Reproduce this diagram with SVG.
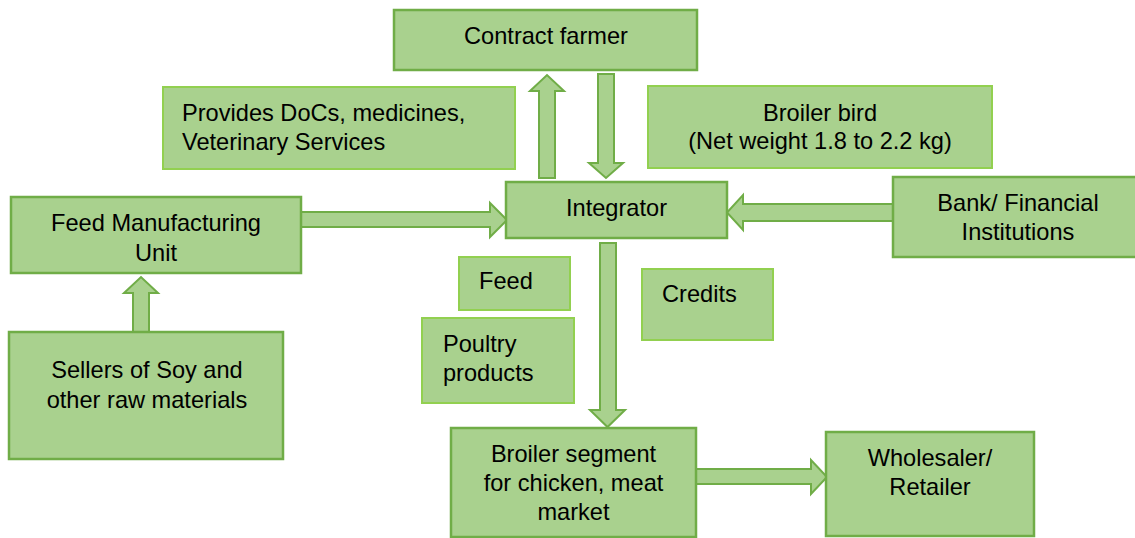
<svg xmlns="http://www.w3.org/2000/svg" width="1135" height="538" viewBox="0 0 1135 538">
<style>
.box{fill:#A9D18E;stroke:#70AD47;stroke-width:2.5}
.lbl{fill:#A9D18E;stroke:#92D050;stroke-width:2}
.arr{fill:#A9D18E;stroke:#70AD47;stroke-width:2;stroke-linejoin:miter}
text{font-family:"Liberation Sans",Arial,sans-serif;font-size:23.6px;fill:#000}
.c{text-anchor:middle}
</style>
<rect width="1135" height="538" fill="#fff"/>
<g id="connectors">
<polygon class="arr" points="539,178 539,91 530,91 547,75 564,91 555,91 555,178"/>
<polygon class="arr" points="598,74 614,74 614,163 623,163 606,178 589,163 598,163"/>
<polygon class="arr" points="301,212 490,212 490,203 507,220 490,237 490,227 301,227"/>
<polygon class="arr" points="133,332 133,293 124,293 141,277 158,293 149,293 149,332"/>
<polygon class="arr" points="893,204 743,204 743,195 727,212.5 743,230 743,221 893,221"/>
<polygon class="arr" points="600,243 616,243 616,410 625,410 607.5,427 590,410 600,410"/>
<polygon class="arr" points="696,469 811,469 811,460 827,477 811,494 811,484 696,484"/>
</g>
<g id="contract-farmer"><rect class="box" x="394" y="10" width="303" height="60"/><text class="c" x="546" y="44">Contract farmer</text></g>
<g id="provides"><rect class="lbl" x="163" y="87" width="352" height="82"/><text x="182" y="121">Provides DoCs, medicines,</text><text x="182" y="150">Veterinary Services</text></g>
<g id="broiler-bird"><rect class="lbl" x="648" y="86" width="344" height="82"/><text class="c" x="820" y="121">Broiler bird</text><text class="c" x="820" y="149">(Net weight 1.8 to 2.2 kg)</text></g>
<g id="integrator"><rect class="box" x="506" y="182" width="221" height="56"/><text class="c" x="616.5" y="216">Integrator</text></g>
<g id="feed-unit"><rect class="box" x="11" y="197" width="290" height="76"/><text class="c" x="156" y="231">Feed Manufacturing</text><text class="c" x="156" y="261">Unit</text></g>
<g id="bank"><rect class="box" x="893" y="177" width="250" height="80"/><text class="c" x="1018" y="211">Bank/ Financial</text><text class="c" x="1018" y="240">Institutions</text></g>
<g id="sellers"><rect class="box" x="9" y="332" width="274" height="127"/><text class="c" x="147" y="378">Sellers of Soy and</text><text class="c" x="147" y="408">other raw materials</text></g>
<g id="feed"><rect class="lbl" x="459" y="257" width="111" height="53"/><text x="479" y="289">Feed</text></g>
<g id="poultry"><rect class="lbl" x="422" y="318" width="152" height="85"/><text x="443" y="352">Poultry</text><text x="443" y="381">products</text></g>
<g id="credits"><rect class="lbl" x="642" y="269" width="131" height="71"/><text x="662" y="302">Credits</text></g>
<g id="broiler-segment"><rect class="box" x="451" y="428" width="245" height="109"/><text class="c" x="573.5" y="462">Broiler segment</text><text class="c" x="573.5" y="491">for chicken, meat</text><text class="c" x="573.5" y="520">market</text></g>
<g id="wholesaler"><rect class="box" x="826" y="432" width="208" height="104"/><text class="c" x="930" y="466">Wholesaler/</text><text class="c" x="930" y="495">Retailer</text></g>
</svg>
